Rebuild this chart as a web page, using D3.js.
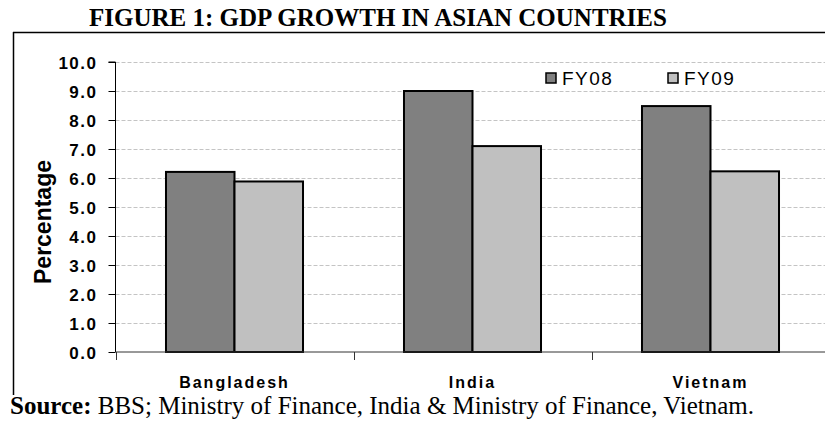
<!DOCTYPE html>
<html>
<head>
<meta charset="utf-8">
<script src="https://cdn.jsdelivr.net/npm/d3@7"></script>
<style>
  html, body { margin: 0; padding: 0; background: #fff; }
  svg { display: block; }
</style>
</head>
<body>
<svg id="chart" width="825" height="423"></svg>
<script>
// GDP growth (%) by country and fiscal year
const countries = ["Bangladesh", "India", "Vietnam"];
const seriesNames = ["FY08", "FY09"];
const fy08 = [6.21, 9.0, 8.48];
const fy09 = [5.88, 7.1, 6.23];
const yTicks = [0, 1, 2, 3, 4, 5, 6, 7, 8, 9, 10];

const seriesValues = [fy08, fy09];
const colors = ["#808080", "#c0c0c0"];

const svg = d3.select("#chart");
const sans = "Arial, 'Liberation Sans', sans-serif";
const serif = "'Times New Roman', 'Liberation Serif', serif";

const plot = { left: 115.5, right: 829.5, top: 62, bottom: 352 };

const x0 = d3.scaleBand().domain(countries).range([plot.left, plot.right]).paddingInner(0).paddingOuter(0);
const x1 = d3.scaleBand().domain(seriesNames).range([0, x0.bandwidth()]).paddingInner(0).paddingOuter(0.737);
const y = d3.scaleLinear().domain([0, 10]).range([plot.bottom, plot.top]);

// Frame: top rule and left rule
svg.append("line").attr("x1", 13).attr("x2", 825).attr("y1", 32.5).attr("y2", 32.5)
  .attr("stroke", "#000").attr("stroke-width", 1.5);
svg.append("line").attr("x1", 13.5).attr("x2", 13.5).attr("y1", 32).attr("y2", 395)
  .attr("stroke", "#000").attr("stroke-width", 1.5);

// Title
svg.append("text").attr("x", 378).attr("y", 26).attr("text-anchor", "middle")
  .attr("font-family", serif).attr("font-weight", "bold").attr("font-size", 25)
  .text("FIGURE 1: GDP GROWTH IN ASIAN COUNTRIES");

// Gridlines
svg.append("g").selectAll("line").data(yTicks.filter(d => d > 0)).join("line")
  .attr("x1", plot.left).attr("x2", 825)
  .attr("y1", d => Math.round(y(d)) + 0.5).attr("y2", d => Math.round(y(d)) + 0.5)
  .attr("stroke", "#c4c4c4").attr("stroke-width", 1).attr("stroke-dasharray", "4,2");

// Bars
const groups = svg.append("g").selectAll("g").data(countries).join("g")
  .attr("transform", d => `translate(${x0(d)},0)`);
groups.selectAll("rect")
  .data((c, i) => seriesNames.map((s, j) => ({ s, v: seriesValues[j][i], j })))
  .join("rect")
  .attr("x", d => x1(d.s))
  .attr("y", d => y(d.v))
  .attr("width", x1.bandwidth())
  .attr("height", d => y(0) - y(d.v))
  .attr("fill", d => colors[d.j])
  .attr("stroke", "#000").attr("stroke-width", 2);

// Y axis
const yAxis = d3.axisLeft(y).tickValues(yTicks).tickSize(7).tickFormat(d3.format(".1f"));
const gy = svg.append("g").attr("transform", `translate(${plot.left},0)`).call(yAxis);
gy.select(".domain").attr("stroke", "#000").attr("d", `M-7,${plot.top}H0V${plot.bottom}`);
gy.selectAll(".tick line").attr("stroke", "#000");
gy.selectAll(".tick text")
  .attr("x", -18).attr("dy", "0.36em")
  .attr("font-family", sans).attr("font-size", 17).attr("font-weight", "bold")
  .attr("letter-spacing", 1.5).attr("fill", "#000");

// X axis: baseline with ticks at category boundaries
svg.append("line").attr("x1", plot.left).attr("x2", 825)
  .attr("y1", plot.bottom).attr("y2", plot.bottom).attr("stroke", "#333").attr("stroke-width", 1);
svg.append("g").selectAll("line").data(countries).join("line")
  .attr("x1", d => Math.round(x0(d)) + 0.5).attr("x2", d => Math.round(x0(d)) + 0.5)
  .attr("y1", plot.bottom).attr("y2", plot.bottom + 8)
  .attr("stroke", "#333");
svg.append("g").selectAll("text").data(countries).join("text")
  .attr("x", d => x0(d) + x0.bandwidth() / 2)
  .attr("y", 387.5).attr("text-anchor", "middle")
  .attr("font-family", sans).attr("font-weight", "bold").attr("font-size", 16)
  .attr("letter-spacing", 2)
  .text(d => d);

// Y axis title
svg.append("text")
  .attr("transform", "translate(51,222) rotate(-90)")
  .attr("text-anchor", "middle")
  .attr("font-family", sans).attr("font-weight", "bold").attr("font-size", 23)
  .text("Percentage");

// Legend
const legendX = [546, 668];
const legend = svg.append("g").selectAll("g").data(seriesNames).join("g")
  .attr("transform", (d, i) => `translate(${legendX[i]},73)`);
legend.append("rect").attr("width", 10).attr("height", 10)
  .attr("fill", (d, i) => colors[i]).attr("stroke", "#000").attr("stroke-width", 1.5);
legend.append("text").attr("x", 16).attr("y", 12)
  .attr("font-family", sans).attr("font-size", 19).attr("letter-spacing", 1.5)
  .text(d => d);

// Source note
const src = svg.append("text").attr("x", 10).attr("y", 414)
  .attr("font-family", serif).attr("font-size", 25);
src.append("tspan").attr("font-weight", "bold").text("Source:");
src.append("tspan").text(" BBS; Ministry of Finance, India & Ministry of Finance, Vietnam.");
</script>
</body>
</html>
